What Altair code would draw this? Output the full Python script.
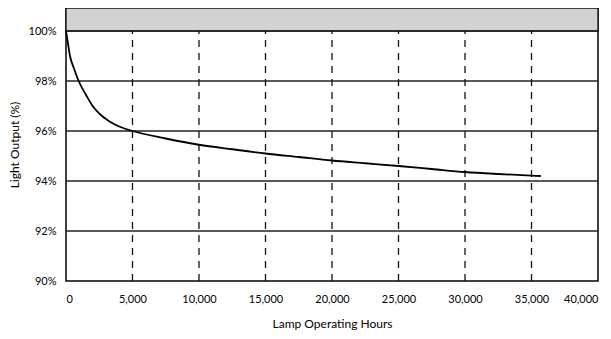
import altair as alt
import pandas as pd

# Curve
hours = [0, 150, 300, 600, 950, 1500, 2000, 2500, 3300, 4000, 5000, 7500, 10000,
         12500, 15000, 17500, 20000, 22500, 25000, 27500, 30000, 32500, 35700]
output = [100.0, 99.5, 99.0, 98.5, 98.0, 97.45, 97.0, 96.7, 96.37, 96.18, 96.0, 95.7, 95.45,
          95.27, 95.1, 94.96, 94.82, 94.71, 94.6, 94.48, 94.36, 94.28, 94.2]

x_ticks = [0, 5000, 10000, 15000, 20000, 25000, 30000, 35000, 40000]
y_ticks = [90, 92, 94, 96, 98, 100]
h_grid = [92, 94, 96, 98, 100]
v_grid = [5000, 10000, 15000, 20000, 25000, 30000, 35000]
band = {"x": [0], "x2": [40000], "y": [100], "y2": [100.92]}

FONT = "Lato"
xs = alt.Scale(domain=[0, 40000], nice=False)
ys = alt.Scale(domain=[90, 100.92], nice=False, zero=False)

curve_df = pd.DataFrame({"hours": hours, "out": output})
band_df = pd.DataFrame(band)
hg_df = pd.DataFrame({"y": h_grid})
vg_df = pd.DataFrame({"x": v_grid, "y": [90] * len(v_grid), "y2": [100] * len(v_grid)})

band_layer = alt.Chart(band_df).mark_rect(fill="#d2d2d2", stroke="#111", strokeWidth=1.3).encode(
    x=alt.X("x:Q", scale=xs, axis=alt.Axis(values=x_ticks, format=",d", grid=False, ticks=False,
                                           domain=False, labelPadding=12, labelFont=FONT,
                                           labelFontSize=11, labelColor="#000",
                                           title="Lamp Operating Hours", titleFont=FONT,
                                           titleFontSize=12, titleFontWeight="normal",
                                           titlePadding=14, titleColor="#000")),
    x2="x2:Q",
    y=alt.Y("y:Q", scale=ys, axis=alt.Axis(values=y_ticks, labelExpr="datum.value + '%'",
                                           grid=False, ticks=False, domain=False, labelPadding=10,
                                           labelFont=FONT, labelFontSize=11, labelColor="#000",
                                           title="Light Output (%)", titleFont=FONT,
                                           titleFontSize=12, titleFontWeight="normal",
                                           titlePadding=7, titleColor="#000")),
    y2="y2:Q",
)

hgrid = alt.Chart(hg_df).mark_rule(color="#222", strokeWidth=1.3).encode(
    y=alt.Y("y:Q", scale=ys)
)

vgrid = alt.Chart(vg_df).mark_rule(color="#111", strokeWidth=1.3, strokeDash=[7, 6]).encode(
    x=alt.X("x:Q", scale=xs), y=alt.Y("y:Q", scale=ys), y2="y2:Q"
)

line = alt.Chart(curve_df).mark_line(color="#000", strokeWidth=1.8, interpolate="monotone").encode(
    x=alt.X("hours:Q", scale=xs), y=alt.Y("out:Q", scale=ys)
)

chart = alt.layer(band_layer, hgrid, vgrid, line).properties(
    width=532, height=273,
    autosize=alt.AutoSizeParams(type="none"),
    padding={"left": 58, "top": 0, "right": 5, "bottom": 50},
    background="white",
).configure_view(stroke="#000", strokeWidth=1.5)

chart.save("out.html", embed_options={"renderer": "svg", "actions": False})
